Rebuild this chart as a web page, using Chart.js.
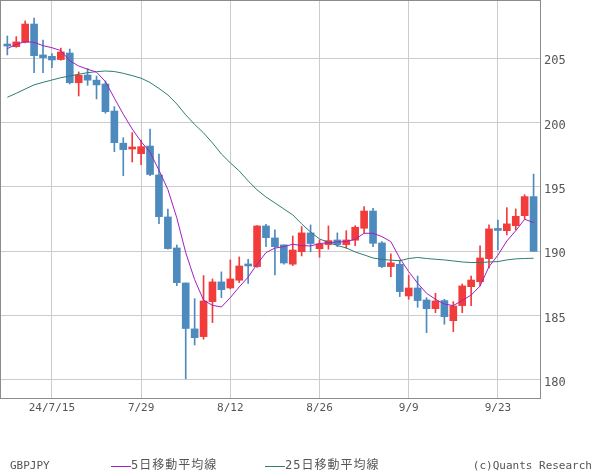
<!DOCTYPE html>
<html>
<head>
<meta charset="utf-8">
<script src="https://cdn.jsdelivr.net/npm/chart.js@4/dist/chart.umd.min.js"></script>
<style>
  html, body { margin: 0; padding: 0; background: #fff; }
  #wrap { position: relative; width: 600px; height: 475px; }
  canvas { position: absolute; left: 0; top: 0; }
  .lg { position: absolute; font-family: "DejaVu Sans Mono", "Noto Sans CJK JP", monospace; font-size: 11px; color: #555; line-height: 14px; white-space: nowrap; }
  .jp { font-size: 12px; letter-spacing: 1px; }
  .ln { position: absolute; height: 1px; width: 20px; }
</style>
</head>
<body>
<div id="wrap">
  <canvas id="c" width="600" height="475"></canvas>
  <div class="lg" style="left:10px; top:459px;">GBPJPY</div>
  <div class="ln" style="left:111px; top:466px; background:#a020c0;"></div>
  <div class="lg jp" style="left:131px; top:458px;">5日移動平均線</div>
  <div class="ln" style="left:265px; top:466px; background:#2e7d72;"></div>
  <div class="lg jp" style="left:285px; top:458px;">25日移動平均線</div>
  <div class="lg" style="right:8px; top:459px;">(c)Quants Research</div>
</div>
<script>
// Trading days (2024)
const dates = [
  "7/8","7/9","7/10","7/11","7/12","7/15","7/16","7/17","7/18","7/19",
  "7/22","7/23","7/24","7/25","7/26","7/29","7/30","7/31","8/1","8/2",
  "8/5","8/6","8/7","8/8","8/9","8/12","8/13","8/14","8/15","8/16",
  "8/19","8/20","8/21","8/22","8/23","8/26","8/27","8/28","8/29","8/30",
  "9/2","9/3","9/4","9/5","9/6","9/9","9/10","9/11","9/12","9/13",
  "9/16","9/17","9/18","9/19","9/20","9/23","9/24","9/25","9/26","9/27"
];
const tickDates  = ["7/15","7/29","8/12","8/26","9/9","9/23"];
const tickLabels = ["24/7/15","7/29","8/12","8/26","9/9","9/23"];
const yTicks = [180,185,190,195,200,205];

const opens = [
  205.98,205.90,206.24,207.66,205.26,205.15,204.90,205.41,203.10,203.70,
  203.30,203.00,200.90,198.40,197.95,197.59,198.18,195.93,192.67,190.26,
  187.54,183.97,183.37,186.09,187.62,187.15,187.75,188.90,188.81,191.97,
  191.04,190.50,189.00,189.97,191.43,190.20,190.52,190.88,190.52,190.86,
  191.79,193.13,190.65,188.81,188.99,186.53,187.15,186.22,185.54,186.17,
  184.61,185.78,187.25,187.64,189.43,191.66,191.60,191.99,192.77,194.25
];
const highs = [
  206.73,206.68,207.90,208.13,206.42,205.36,205.80,205.72,203.94,204.20,
  203.62,203.24,201.24,198.83,199.22,198.65,199.50,197.56,193.29,190.49,
  187.54,186.32,188.11,187.85,188.40,189.33,189.56,189.37,192.00,192.10,
  191.66,190.50,191.19,191.92,192.05,190.88,191.97,191.43,191.60,191.99,
  193.47,193.34,190.75,189.80,189.33,188.14,188.08,186.40,186.74,186.27,
  186.09,187.46,188.08,190.42,192.05,192.43,193.39,193.29,194.40,196.00
];
const lows = [
  205.26,205.85,206.20,203.88,203.88,204.27,204.85,203.00,202.07,202.90,
  201.84,200.73,197.74,195.88,196.94,196.73,195.88,192.15,190.16,187.33,
  180.10,182.72,183.17,184.46,186.40,187.08,187.57,187.50,188.75,190.36,
  188.16,189.00,188.89,189.64,189.97,189.54,190.16,190.36,190.24,190.44,
  191.40,190.36,188.73,188.03,186.48,186.27,185.65,183.68,185.23,184.33,
  183.76,185.23,185.78,187.31,188.71,190.10,191.27,191.66,192.49,190.00
];
const closes = [
  205.95,206.27,207.66,205.20,205.05,204.87,205.49,203.10,203.68,203.30,
  202.93,200.85,198.44,197.90,198.00,198.13,195.97,192.69,190.21,187.56,
  184.00,183.29,186.14,187.62,187.02,187.85,188.86,188.86,191.97,191.06,
  190.36,189.09,190.10,191.43,190.60,190.57,190.83,190.52,190.88,191.87,
  193.13,190.62,188.81,189.10,186.87,187.15,186.17,185.54,186.14,184.92,
  185.75,187.31,187.77,189.48,191.74,191.62,192.13,192.72,194.25,190.00
];
const ma5 = [
  205.75,206.08,206.29,206.24,205.98,205.82,205.60,204.80,204.40,204.15,
  203.92,203.18,201.90,200.65,199.50,198.52,197.70,196.30,194.80,192.60,
  189.90,187.80,186.20,185.80,185.67,186.40,187.23,188.00,189.00,189.90,
  190.25,190.36,190.55,190.44,190.42,190.60,190.67,190.73,190.75,190.94,
  191.40,191.40,191.14,190.75,189.46,188.42,187.52,186.74,186.27,185.90,
  185.78,186.18,186.60,187.30,188.80,189.70,190.80,191.60,192.49,192.23
];
const ma25 = [
  201.97,202.28,202.61,202.93,203.13,203.31,203.49,203.62,203.76,203.88,
  203.96,204.01,203.97,203.83,203.65,203.45,203.12,202.65,202.15,201.45,
  200.60,199.86,199.20,198.42,197.56,196.87,196.24,195.47,194.77,194.22,
  193.76,193.29,192.83,192.13,191.50,190.96,190.69,190.45,190.26,189.95,
  189.72,189.48,189.37,189.31,189.27,189.44,189.52,189.44,189.38,189.33,
  189.25,189.17,189.13,189.13,189.17,189.20,189.33,189.41,189.44,189.46
];

const UP = '#f23b3b', DOWN = '#4d8bbf';
const candleColors = opens.map((o, i) => closes[i] >= o ? UP : DOWN);
const bodies = opens.map((o, i) => ({ x: i, y: [o, closes[i]] }));
const wicks = lows.map((l, i) => ({ x: i, y: [l, highs[i]] }));
const ma5Pts = ma5.map((v, i) => ({ x: i, y: v }));
const ma25Pts = ma25.map((v, i) => ({ x: i, y: v }));
const tickIdx = tickDates.map(d => dates.indexOf(d));

const zeroPad = s => { s.paddingTop = 0; s.paddingBottom = 0; s.paddingLeft = 0; s.paddingRight = 0; };

const frame = {
  id: 'frame',
  afterDraw(chart) {
    const a = chart.chartArea, c = chart.ctx;
    c.save();
    c.strokeStyle = '#8c8c8c';
    c.lineWidth = 1;
    c.strokeRect(a.left - 0.5, a.top - 0.5, a.right - a.left + 1, a.bottom - a.top + 1);
    c.restore();
  }
};

new Chart(document.getElementById('c'), {
  type: 'bar',
  data: {
    datasets: [
      { type: 'line', label: '5日移動平均線', data: ma5Pts, borderColor: '#a020c0', borderWidth: 1, pointRadius: 0, tension: 0, order: 0 },
      { type: 'line', label: '25日移動平均線', data: ma25Pts, borderColor: '#2e7d72', borderWidth: 1, pointRadius: 0, tension: 0, order: 0 },
      { type: 'bar', label: 'body', data: bodies, backgroundColor: candleColors, barThickness: 7, minBarLength: 2, grouped: false, order: 1 },
      { type: 'bar', label: 'wick', data: wicks, backgroundColor: candleColors, barThickness: 1, grouped: false, order: 2 }
    ]
  },
  options: {
    responsive: false,
    animation: false,
    layout: { padding: { left: 1, top: 1, right: 0, bottom: 0 } },
    plugins: { legend: { display: false }, tooltip: { enabled: false } },
    scales: {
      x: {
        type: 'linear', min: -0.71, max: 59.72, offset: false,
        afterBuildTicks: s => { s.ticks = tickIdx.map(v => ({ value: v })); },
        afterFit: s => { s.height = 77; zeroPad(s); },
        grid: { color: '#cccccc', drawTicks: false, offset: false },
        border: { display: false },
        ticks: {
          padding: 4, color: '#555',
          font: { family: 'DejaVu Sans Mono', size: 11 },
          callback: v => tickLabels[tickIdx.indexOf(v)] ?? '',
          maxRotation: 0, autoSkip: false
        }
      },
      y: {
        position: 'right', min: 178.6, max: 209.45,
        afterBuildTicks: s => { s.ticks = yTicks.map(v => ({ value: v })); },
        afterFit: s => { s.width = 60; zeroPad(s); },
        grid: { color: '#cccccc', drawTicks: false },
        border: { display: false },
        ticks: {
          padding: 4, color: '#555', labelOffset: 3,
          font: { family: 'DejaVu Sans Mono', size: 12 }
        }
      }
    }
  },
  plugins: [frame]
});
</script>
</body>
</html>
